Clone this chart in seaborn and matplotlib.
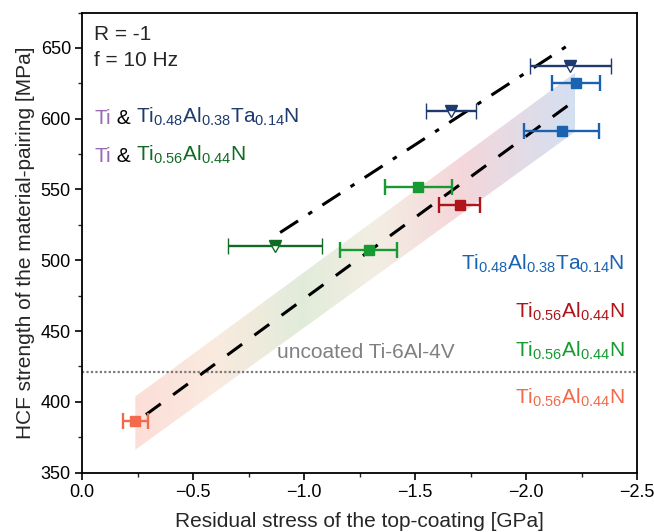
import numpy as np
import matplotlib
matplotlib.use("Agg")
import matplotlib.pyplot as plt
import seaborn as sns
from matplotlib.colors import LinearSegmentedColormap
from matplotlib.patches import Polygon

# --- data ---
# squares (coated, single layer)
sq_x = [-0.24, -1.29, -1.515, -1.70, -2.225, -2.16]
sq_y = [386.5, 507.6, 551.9, 539.4, 625.5, 591.3]
sq_err = [0.057, 0.13, 0.152, 0.092, 0.109, 0.168]
sq_colors = ["#f26a4b", "#169a31", "#169a31", "#ad1519", "#1a63b0", "#1a63b0"]

# half-filled triangles (Ti interlayer)
tri_x = [-0.869, -1.661, -2.198]
tri_y = [510.0, 605.6, 637.3]
tri_err = [0.213, 0.112, 0.182]
tri_colors = ["#126b25", "#1e3a6e", "#1e3a6e"]

# trend lines
dash_x = [-0.288, -2.228]
dash_y = [391.0, 613.9]
dashdot_x = [-0.892, -2.198]
dashdot_y = [519.6, 652.8]

# shaded band edges
band_x = [-0.24, -2.22]
band_lo = [366.2, 590.8]
band_hi = [403.8, 632.5]

uncoated = 421.3

sns.set_theme(style="ticks")
plt.rcParams["font.family"] = ["Liberation Sans", "DejaVu Sans"]
plt.rcParams["mathtext.fontset"] = "custom"
plt.rcParams["mathtext.rm"] = "Liberation Sans"
plt.rcParams["mathtext.default"] = "rm"

fig = plt.figure(figsize=(6.54, 5.32), dpi=100)
ax = fig.add_axes([0.1254, 0.1115, 0.849, 0.865])

# gradient band
cmap = LinearSegmentedColormap.from_list(
    "band",
    [(0.0, "#f26a4b"), (0.18, "#e8a070"), (0.38, "#7aa858"),
     (0.55, "#c8b080"), (0.74, "#d04858"), (1.0, "#3a70c0")])
grad = np.linspace(0, 1, 256).reshape(1, -1)
im = ax.imshow(grad, cmap=cmap, alpha=0.22, aspect="auto",
               extent=(band_x[0], band_x[1], min(band_lo), max(band_hi)),
               interpolation="bilinear", zorder=1)
poly = Polygon([(band_x[0], band_lo[0]), (band_x[1], band_lo[1]),
                (band_x[1], band_hi[1]), (band_x[0], band_hi[0])],
               closed=True, transform=ax.transData, facecolor="none", edgecolor="none")
ax.add_patch(poly)
im.set_clip_path(poly)

# uncoated reference
ax.axhline(uncoated, color="#7a7a7a", ls=(0, (1, 1)), lw=1.6, zorder=2)

# trend lines
sns.lineplot(x=dash_x, y=dash_y, ax=ax, color="black", lw=2.2,
             linestyle=(0, (6, 5)), zorder=3, sort=False)
sns.lineplot(x=dashdot_x, y=dashdot_y, ax=ax, color="black", lw=2.2,
             linestyle=(0, (7, 4, 1.5, 4)), zorder=3, sort=False)

for x, y, e, c in zip(sq_x, sq_y, sq_err, sq_colors):
    ax.errorbar(x, y, xerr=e, fmt="s", color=c, ms=7.5, lw=1.7,
                capsize=6, capthick=1.7, zorder=5)

for x, y, e, c in zip(tri_x, tri_y, tri_err, tri_colors):
    ax.errorbar(x, y, xerr=e, fmt="v", color=c, ms=9, lw=1.7,
                capsize=6, capthick=1.7, fillstyle="top",
                markerfacecoloralt="white", markeredgecolor=c,
                markeredgewidth=1.0, zorder=5)

ax.set_xlim(0, -2.5)
ax.set_ylim(350, 675)
ax.set_xticks(np.arange(0, -2.51, -0.5))
ax.set_xticks(np.arange(0, -2.51, -0.25), minor=True)
ax.set_yticks(np.arange(350, 651, 50))
ax.set_yticks(np.arange(350, 676, 25), minor=True)
ax.tick_params(which="major", direction="out", length=5, width=1.2,
               labelsize=13, colors="black", pad=3)
ax.tick_params(which="minor", direction="out", length=3, width=1.0)
for s in ax.spines.values():
    s.set_linewidth(1.3)
    s.set_color("black")

ax.set_xlabel("Residual stress of the top-coating [GPa]", fontsize=15, labelpad=8)
ax.set_ylabel("HCF strength of the material-pairing [MPa]", fontsize=15, labelpad=4)

fs = 15
ax.text(-0.054, 655.4, "R = -1", fontsize=fs, va="baseline", ha="left")
ax.text(-0.054, 637.3, "f = 10 Hz", fontsize=fs, va="baseline", ha="left")

purple = "#9a6ab4"
f1 = r"Ti$_{0.48}$Al$_{0.38}$Ta$_{0.14}$N"
f2 = r"Ti$_{0.56}$Al$_{0.44}$N"
for y, form, col in [(596.6, f1, "#1e3a6e"), (569.5, f2, "#126b25")]:
    t1 = ax.text(-0.054, y, "Ti", fontsize=fs, color=purple, va="baseline")
    t2 = ax.annotate(" & ", xy=(1, 0), xycoords=t1, fontsize=fs,
                     color="black", va="bottom")
    ax.annotate(form, xy=(1, 0), xycoords=t2, fontsize=fs, color=col, va="bottom")

right_labels = [(493.6, f1, "#1a63b0"), (459.7, f2, "#ad1519"),
                (431.9, f2, "#169a31"), (398.5, f2, "#f26a4b")]
for y, form, col in right_labels:
    ax.text(-2.443, y, form, fontsize=fs, color=col, ha="right", va="baseline")

ax.text(-0.878, 431.0, "uncoated Ti-6Al-4V", fontsize=fs, color="#808080",
        ha="left", va="baseline")

fig.savefig("out.png", dpi=100)
